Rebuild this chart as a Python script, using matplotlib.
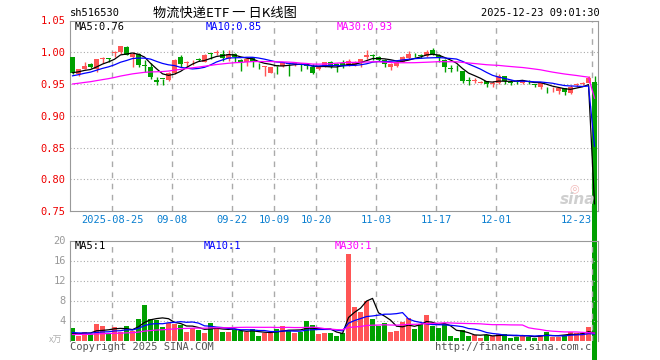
import numpy as np
import pandas as pd
import matplotlib
matplotlib.use('Agg')
import matplotlib.pyplot as plt

# 日K数据 (2025-08-14 ~ 2025-12-23)
opens = [0.992, 0.965, 0.974, 0.982, 0.973, 0.989, 0.991, 0.999, 1.000, 1.008,
         0.992, 0.997, 0.979, 0.977, 0.957, 0.9585, 0.957, 0.968, 0.992, 0.983,
         0.984, 0.989, 0.985, 0.9985, 0.999, 0.998, 0.989, 0.998, 0.988, 0.985,
         0.992, 0.977, 0.977, 0.968, 0.979, 0.978, 0.982, 0.982, 0.981, 0.980,
         0.976, 0.973, 0.977, 0.985, 0.982, 0.983, 0.980, 0.980, 0.984, 0.992,
         0.995, 0.993, 0.988, 0.976, 0.979, 0.985, 0.991, 0.996, 0.995, 0.994,
         1.003, 0.996, 0.988, 0.975, 0.977, 0.970, 0.956, 0.955, 0.952, 0.954,
         0.950, 0.951, 0.963, 0.953, 0.954, 0.951, 0.954, 0.949, 0.946, 0.941,
         0.940, 0.939, 0.943, 0.936, 0.949, 0.950, 0.952, 0.953]
highs = [0.993, 0.974, 0.984, 0.983, 0.990, 0.993, 0.991, 1.002, 1.010, 1.010,
         1.001, 0.999, 0.988, 0.983, 0.961, 0.958, 0.969, 0.990, 0.996, 0.986,
         0.988, 0.991, 0.997, 0.999, 1.004, 1.003, 1.004, 0.999, 0.989, 0.992,
         0.993, 0.983, 0.978, 0.977, 0.979, 0.985, 0.982, 0.985, 0.983, 0.983,
         0.982, 0.978, 0.985, 0.986, 0.983, 0.988, 0.990, 0.987, 0.990, 1.004,
         0.997, 0.994, 0.989, 0.983, 0.986, 0.994, 1.002, 0.999, 0.997, 1.004,
         1.006, 0.998, 0.989, 0.980, 0.980, 0.971, 0.961, 0.960, 0.955, 0.955,
         0.955, 0.965, 0.963, 0.956, 0.957, 0.957, 0.956, 0.950, 0.952, 0.946,
         0.945, 0.946, 0.944, 0.948, 0.952, 0.953, 0.962, 0.962]
lows = [0.966, 0.963, 0.973, 0.975, 0.969, 0.983, 0.984, 0.993, 0.998, 0.995,
        0.977, 0.977, 0.969, 0.958, 0.949, 0.949, 0.954, 0.966, 0.977, 0.977,
        0.980, 0.986, 0.984, 0.990, 0.996, 0.986, 0.987, 0.984, 0.970, 0.978,
        0.977, 0.973, 0.962, 0.967, 0.965, 0.977, 0.962, 0.979, 0.971, 0.974,
        0.965, 0.972, 0.976, 0.975, 0.969, 0.975, 0.978, 0.978, 0.976, 0.990,
        0.988, 0.987, 0.977, 0.972, 0.977, 0.984, 0.990, 0.992, 0.991, 0.992,
        0.996, 0.985, 0.969, 0.969, 0.970, 0.952, 0.949, 0.951, 0.951, 0.945,
        0.945, 0.950, 0.950, 0.949, 0.950, 0.950, 0.950, 0.945, 0.942, 0.936,
        0.937, 0.935, 0.933, 0.934, 0.945, 0.948, 0.952, 0.0]
closes = [0.967, 0.973, 0.979, 0.976, 0.989, 0.990, 0.990, 1.000, 1.010, 0.996,
          0.998, 0.980, 0.978, 0.961, 0.953, 0.958, 0.968, 0.988, 0.982, 0.984,
          0.985, 0.988, 0.996, 0.998, 1.000, 0.991, 0.997, 0.992, 0.984, 0.990,
          0.985, 0.976, 0.978, 0.976, 0.978, 0.984, 0.981, 0.983, 0.980, 0.979,
          0.968, 0.977, 0.984, 0.977, 0.978, 0.978, 0.987, 0.985, 0.989, 0.995,
          0.994, 0.988, 0.982, 0.982, 0.985, 0.992, 0.997, 0.995, 0.994, 1.001,
          0.997, 0.991, 0.976, 0.974, 0.976, 0.955, 0.955, 0.956, 0.953, 0.950,
          0.951, 0.963, 0.955, 0.952, 0.953, 0.956, 0.953, 0.948, 0.951, 0.940,
          0.941, 0.943, 0.938, 0.946, 0.950, 0.951, 0.960, 0.0]
# 成交量 (万)
vols = [2.5, 0.9, 1.7, 1.3, 3.3, 2.9, 1.5, 2.7, 1.7, 3.0,
        2.0, 4.3, 7.1, 4.3, 4.2, 2.7, 3.5, 3.4, 3.2, 1.7,
        2.6, 2.1, 1.6, 3.5, 2.5, 1.8, 1.7, 2.1, 1.9, 1.7,
        2.3, 0.9, 1.5, 1.6, 2.3, 3.0, 1.9, 1.6, 1.8, 3.9,
        3.1, 1.3, 1.6, 1.6, 0.9, 1.6, 17.3, 6.8, 5.7, 8.0,
        4.3, 2.9, 3.5, 1.7, 1.9, 3.7, 4.6, 2.3, 3.3, 5.1,
        2.9, 2.5, 3.3, 0.9, 0.6, 2.1, 0.9, 1.1, 0.6, 1.1,
        0.9, 1.3, 1.3, 0.5, 0.7, 1.2, 0.8, 0.6, 1.1, 1.7,
        0.7, 0.8, 1.2, 1.8, 1.5, 1.5, 2.8, 0.0]
# 图中可见区间之前的收盘价/成交量 (估计, 仅用于均线)
pre_close = [0.938, 0.940, 0.941, 0.939, 0.942, 0.944, 0.943, 0.945, 0.944, 0.946,
             0.943, 0.942, 0.944, 0.945, 0.946, 0.944, 0.945, 0.947, 0.946, 0.947,
             0.955, 0.957, 0.958, 0.959, 0.961, 0.966, 0.968, 0.969, 0.969]
pre_vol = [0.9, 1.1, 1.0, 0.8, 1.2, 1.0, 0.9, 1.1, 1.0, 1.0,
           0.9, 1.2, 1.1, 0.9, 1.0, 1.0, 0.8, 1.1, 1.0, 1.0,
           1.7, 2.0, 1.6, 1.9, 1.8, 1.2, 1.0, 1.2, 1.1]

tick_idx = [7, 17, 27, 34, 41, 51, 61, 71, 87]
tick_labels = ['2025-08-25', '09-08', '09-22', '10-09', '10-20', '11-03', '11-17', '12-01', '12-23']

RED = '#ff5555'
GREEN = '#00a000'
GRID = '#aaaaaa'
MONO = 'DejaVu Sans Mono'

n = len(closes)
x = np.arange(n)
o = np.array(opens); h = np.array(highs); l = np.array(lows); c = np.array(closes)
up = c >= o
colors = [RED if u else GREEN for u in up]

cs = pd.Series(pre_close + closes)
vs = pd.Series(pre_vol + vols)
npre = len(pre_close)
ma = {k: cs.rolling(k).mean().values[npre:] for k in (5, 10, 30)}
vma = {k: vs.rolling(k).mean().values[npre:] for k in (5, 10, 30)}
ma_colors = {5: 'black', 10: '#0000ff', 30: '#ff00ff'}

W, H = 660, 360
fig = plt.figure(figsize=(6.6, 3.6), dpi=100)
ax = fig.add_axes([70 / W, 1 - 211 / H, 528 / W, 190.5 / H])
axv = fig.add_axes([70 / W, 1 - 340.5 / H, 528 / W, 100 / H])
axv.set_facecolor('none')

xlim = (-0.42, 87.58)
vlines_x = [t - 0.35 for t in tick_idx]

# 价格面板
ax.set_xlim(*xlim)
ax.set_ylim(0.75, 1.05)
for yv in [0.80, 0.85, 0.90, 0.95, 1.00]:
    ax.axhline(yv, color=GRID, ls=(0, (1, 2)), lw=0.8, zorder=0)
for xv in vlines_x:
    ax.axvline(xv, color=GRID, ls=(0, (4, 4)), lw=1, zorder=0)

ax.vlines(x, l, h, colors=colors, lw=1, zorder=2)
body_bot = np.minimum(o, c)
body_h = np.maximum(np.abs(c - o), 0.0013)
bars = ax.bar(x, body_h, bottom=body_bot, width=0.8, color=colors, lw=0, zorder=3)
bars.patches[-1].set_clip_on(False)

for k in (5, 10, 30):
    ax.plot(x, ma[k], color=ma_colors[k], lw=0.9, zorder=4)

ax.set_yticks([0.75, 0.80, 0.85, 0.90, 0.95, 1.00, 1.05])
ax.set_yticklabels(['%.2f' % v for v in [0.75, 0.80, 0.85, 0.90, 0.95, 1.00, 1.05]],
                   family=MONO, fontsize=7.5, color='#ee0000')
ax.set_xticks(vlines_x)
ax.set_xticklabels(tick_labels, family=MONO, fontsize=7.5, color='#0a7fd0')
ax.get_xticklabels()[-1].set_horizontalalignment('right')
ax.tick_params(length=0, pad=3)
for s in ax.spines.values():
    s.set_color('#999999')

# 成交量面板
axv.set_xlim(*xlim)
axv.set_ylim(0, 20)
for yv in [4, 8, 12, 16]:
    axv.axhline(yv, color=GRID, ls=(0, (1, 2)), lw=0.8, zorder=0)
for xv in vlines_x:
    axv.axvline(xv, color=GRID, ls=(0, (4, 4)), lw=1, zorder=0)
axv.bar(x, vols, width=0.8, color=colors, lw=0, zorder=2)
for k in (5, 10, 30):
    axv.plot(x, vma[k], color=ma_colors[k], lw=0.9, zorder=3)
axv.set_yticks([4, 8, 12, 16, 20])
axv.set_yticklabels(['4', '8', '12', '16', '20'], family=MONO, fontsize=7.5, color='#999999')
axv.set_xticks([])
axv.tick_params(length=0, pad=3)
for s in axv.spines.values():
    s.set_color('#999999')
axv.spines['bottom'].set_visible(False)


def ftext(px, py, s, **kw):
    fig.text(px / W, 1 - py / H, s, va='center', **kw)


ftext(70, 13, 'sh516530', family=MONO, fontsize=7.5, color='black')
ftext(225, 13, '物流快递ETF 一 日K线图', family=['Noto Sans CJK SC', 'DejaVu Sans'],
      fontsize=9.5, color='black', ha='center')
ftext(600, 13, '2025-12-23 09:01:30', family=MONO, fontsize=7.5, color='black', ha='right')

ftext(75, 27, 'MA5:0.76', family=MONO, fontsize=7.5, color='black')
ftext(206, 27, 'MA10:0.85', family=MONO, fontsize=7.5, color='#0000ff')
ftext(337, 27, 'MA30:0.93', family=MONO, fontsize=7.5, color='#ff00ff')

ftext(75, 246, 'MA5:1', family=MONO, fontsize=7.5, color='black')
ftext(204, 246, 'MA10:1', family=MONO, fontsize=7.5, color='#0000ff')
ftext(335, 246, 'MA30:1', family=MONO, fontsize=7.5, color='#ff00ff')

ftext(56, 340, 'x万', family=['Noto Sans CJK SC', 'DejaVu Sans'], fontsize=6.5,
      color='#b0b0b0', ha='center')
ftext(70, 347, 'Copyright 2025 SINA.COM', family=MONO, fontsize=7.5, color='#555555')
ftext(591, 347, 'http://finance.sina.com.c', family=MONO, fontsize=7.5, color='#555555', ha='right')

# 水印
ftext(574, 188, '◎', fontsize=8, color='#f2b8b8', ha='center')
ftext(578, 200, 'sina', fontsize=11, color='#cfcfcf', ha='center',
      fontweight='bold', fontstyle='italic')

fig.savefig('out.png', dpi=100)
